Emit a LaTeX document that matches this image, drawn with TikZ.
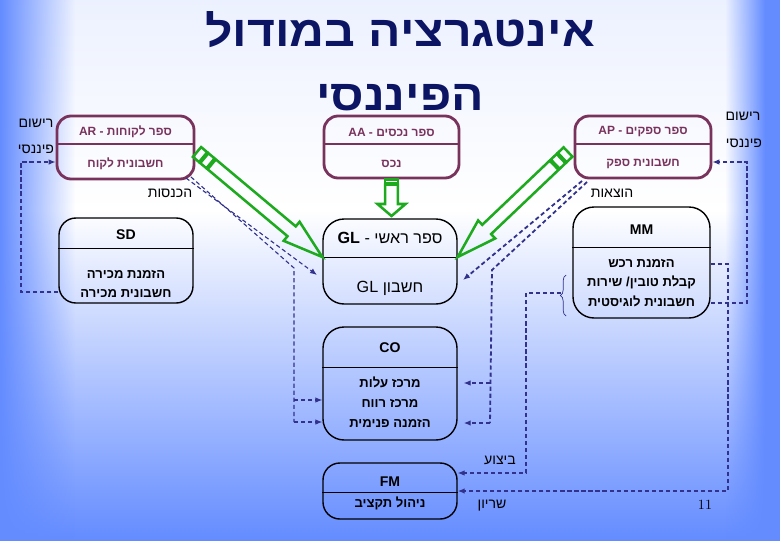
\documentclass[tikz,border=0pt]{standalone}
\usepackage{fontspec}
\newfontfamily\hebfont[Script=Hebrew]{Liberation Sans}
\TeXXeTstate=1
\usepackage{tikz}
\usetikzlibrary{arrows.meta,positioning,fit,calc,fadings,decorations.pathreplacing}

\definecolor{bgblue}{RGB}{100,140,255}
\definecolor{titleblue}{RGB}{12,20,100}
\definecolor{bookred}{RGB}{120,50,92}
\definecolor{flowblue}{RGB}{50,50,140}
\definecolor{arrowgreen}{RGB}{30,170,30}

\tikzfading[name=fade right, left color=transparent!0, right color=transparent!100]
\tikzfading[name=fade left, left color=transparent!100, right color=transparent!0]

\newcommand{\hebtxt}[1]{{\hebfont\beginR #1\endR}}
\newcommand{\lat}[1]{\beginL #1\endL}

% hollow green arrow: tail, tip, shaft start, head length, head half width
\newcommand{\hollowarrow}[5]{%
  \draw[hollow] ($(#1)!#3!(#2)!1.6mm!90:(#2)$)
    -- ($(#2)!#4!(#1)!1.6mm!-90:(#1)$)
    -- ($(#2)!#4!(#1)!#5!-90:(#1)$)
    -- (#2)
    -- ($(#2)!#4!(#1)!#5!90:(#1)$)
    -- ($(#2)!#4!(#1)!1.6mm!90:(#1)$)
    -- ($(#1)!#3!(#2)!1.6mm!-90:(#2)$) -- cycle;}
% small block at the tail of a green arrow: tail, tip, from, to
\newcommand{\tailblock}[4]{%
  \draw[hollow] ($(#1)!#3!(#2)!1.6mm!90:(#2)$) -- ($(#1)!#4!(#2)!1.6mm!90:(#2)$)
    -- ($(#1)!#4!(#2)!1.6mm!-90:(#2)$) -- ($(#1)!#3!(#2)!1.6mm!-90:(#2)$) -- cycle;}

\begin{document}
\begin{tikzpicture}[x=0.025cm, y=-0.025cm, >={Latex[length=5pt,width=4pt]},
  book/.style={draw=bookred, line width=2pt, rounded corners=10pt, inner sep=0pt},
  module/.style={draw=black, line width=1pt, rounded corners=12pt, inner sep=0pt},
  booktxt/.style={text=bookred, font=\hebfont\bfseries\fontsize{8.5}{10}\selectfont},
  modhead/.style={font=\hebfont\bfseries\fontsize{10}{12}\selectfont},
  modtxt/.style={font=\hebfont\bfseries\fontsize{9.3}{14}\selectfont, align=center},
  gltxt/.style={font=\hebfont\fontsize{11.5}{13}\selectfont},
  side/.style={font=\hebfont\fontsize{10}{12}\selectfont},
  titletxt/.style={font=\hebfont\bfseries\fontsize{30}{36}\selectfont, text=titleblue, anchor=base},
  flow/.style={draw=flowblue, line width=0.8pt, dash pattern=on 3pt off 2pt},
  heavy/.style={line width=1.3pt},
  hollow/.style={draw=arrowgreen, line width=1.8pt, line join=miter}]

  % slide background
  \useasboundingbox (0,0) rectangle (780,540);
  \shade[top color=bgblue!12!white, bottom color=white] (0,0) rectangle (780,210);
  \shade[top color=white, bottom color=bgblue] (0,210) rectangle (780,540);
  \fill[bgblue, path fading=fade right] (0,0) rectangle (75,540);
  \fill[bgblue, path fading=fade left] (725,0) rectangle (765,540);
  \fill[bgblue] (765,0) rectangle (780,540);

  \node[titletxt] (title top) at (400,46) {\scalebox{1.14}[1.02]{\hebtxt{אינטגרציה במודול}}};
  \node[titletxt] (title bottom) at (400,110) {\scalebox{1.14}[1.02]{\hebtxt{הפיננסי}}};

  % sub-ledgers
  \node[book, fit={(57,116) (194,179)}] (ar) {};
  \node[book, fit={(324,116) (459,178)}] (aa) {};
  \node[book, fit={(575,116) (711,178)}] (ap) {};
  \foreach \b in {ar,aa,ap}
    \draw[bookred, line width=2pt] (\b.west |- 0,144) -- (\b.east |- 0,144);
  \node[booktxt] (ar head) at (ar.center |- 0,132) {\hebtxt{ספר לקוחות - \lat{AR}}};
  \node[booktxt] (ar body) at (ar.center |- 0,164) {\hebtxt{חשבונית לקוח}};
  \node[booktxt] (aa head) at (aa.center |- 0,132) {\hebtxt{ספר נכסים - \lat{AA}}};
  \node[booktxt] (aa body) at (aa.center |- 0,164) {\hebtxt{נכס}};
  \node[booktxt] (ap head) at (ap.center |- 0,132) {\hebtxt{ספר ספקים - \lat{AP}}};
  \node[booktxt] (ap body) at (ap.center |- 0,164) {\hebtxt{חשבונית ספק}};

  % modules
  \node[module, fit={(59,218) (193,303)}] (sd) {};
  \node[module, rounded corners=15pt, fit={(573,207) (710,318)}] (mm) {};
  \node[module, rounded corners=15pt, fit={(323,219) (457,304)}] (gl) {};
  \node[module, rounded corners=15pt, fit={(323,327) (457,440)}] (co) {};
  \node[module, fit={(323,463) (457,519)}] (fm) {};
  \draw (sd.west |- 0,248) -- (sd.east |- 0,248);
  \draw (mm.west |- 0,247) -- (mm.east |- 0,247);
  \draw (gl.west |- 0,257) -- (gl.east |- 0,257);
  \draw (co.west |- 0,367) -- (co.east |- 0,367);
  \draw (fm.west |- 0,492) -- (fm.east |- 0,492);

  \node[modhead] (sd head) at (sd.center |- 0,235) {SD};
  \node[modtxt] (sd body) at (sd.center |- 0,284) {\hebtxt{הזמנת מכירה}\\ \hebtxt{חשבונית מכירה}};
  \node[modhead] (mm head) at (mm.center |- 0,230) {MM};
  \node[modtxt] (mm body) at (mm.center |- 0,283)
    {\hebtxt{הזמנת רכש}\\ \hebtxt{קבלת טובין/ שירות}\\ \hebtxt{חשבונית לוגיסטית}};
  \node[gltxt] (gl head) at (gl.center |- 0,238) {\hebtxt{ספר ראשי - \lat{\textbf{GL}}}};
  \node[gltxt] (gl body) at (gl.center |- 0,288) {\hebtxt{חשבון \lat{GL}}};
  \node[modhead] (co head) at (co.center |- 0,348) {CO};
  \node[modtxt] (co body) at (co.center |- 0,402)
    {\hebtxt{מרכז עלות}\\ \hebtxt{מרכז רווח}\\ \hebtxt{הזמנה פנימית}};
  \node[modhead] (fm head) at (fm.center |- 0,482) {FM};
  \node[modtxt] (fm body) at (fm.center |- 0,503) {\hebtxt{ניהול תקציב}};

  % side labels
  \node[side] (reg left) at (36,123) {\hebtxt{רישום}};
  \node[side] (fin left) at (36,149) {\hebtxt{פיננסי}};
  \node[side] (reg right) at (743,116) {\hebtxt{רישום}};
  \node[side] (fin right) at (744,143) {\hebtxt{פיננסי}};
  \node[side] (income) at (170,193) {\hebtxt{הכנסות}};
  \node[side] (expense) at (612,193) {\hebtxt{הוצאות}};
  \node[side] (exec) at (500,460) {\hebtxt{ביצוע}};
  \node[side] (commit) at (492,506) {\hebtxt{שריון}};
  \node[font=\fontsize{10}{12}\selectfont] (page) at (705,505) {11};

  % postings into the general ledger
  \coordinate (ar out) at (197,152);
  \coordinate (ap out) at (568,152);
  \coordinate (aa tip) at (aa.south |- 0,216);
  \coordinate (gl tip w) at (gl.west |- 0,257);
  \coordinate (gl tip e) at (gl.east |- 0,257);
  \tailblock{ar out}{gl tip w}{0mm}{2mm}
  \tailblock{ar out}{gl tip w}{2.4mm}{4.4mm}
  \hollowarrow{ar out}{gl tip w}{4.8mm}{10mm}{3.1mm}
  \tailblock{ap out}{gl tip e}{0mm}{2mm}
  \tailblock{ap out}{gl tip e}{2.4mm}{4.4mm}
  \hollowarrow{ap out}{gl tip e}{4.8mm}{10mm}{3.1mm}
  \tailblock{aa.south}{aa tip}{0mm}{1mm}
  \hollowarrow{aa.south}{aa tip}{1.3mm}{3mm}{3.5mm}

  % dashed document flow
  \coordinate (ar foot a) at (186,178);
  \coordinate (ar foot b) at (191,177);
  \coordinate (ap foot a) at (582,181);
  \coordinate (ap foot b) at (587,182);
  \coordinate (gl in w) at (317,275);
  \coordinate (gl in e) at (463,280);
  \draw[flow, ->] (sd.west |- 0,292) -- (21,292) |- (ar.west |- 0,162);
  \draw[flow, ->] (ar foot a) -- (gl in w);
  \draw[flow] (ar foot b) -- (294,268) -- (294,422);
  \draw[flow, ->] (294,400) -- (co.west |- 0,400);
  \draw[flow, ->] (294,422) -- (co.west |- 0,422);
  \draw[flow, heavy, ->] (ap foot a) -- (gl in e);
  \draw[flow, heavy] (ap foot b) -- (492,270) -- (490,423);
  \draw[flow, ->] (490,383) -- ($(co.east |- 0,383)+(6,0)$);
  \draw[flow, heavy, ->] (490,423) -- ($(co.east |- 0,423)+(6,0)$);
  \draw[flow, ->] (mm.east |- 0,303) -- (747,303) |- (ap.east |- 0,162);
  \draw[flow, heavy, ->] (mm.east |- 0,264) -- (728,264) |- (fm.east |- 0,491);
  \draw[flowblue, line width=0.5pt, decorate, decoration={brace, amplitude=4pt}]
    (566,316) -- (566,275);
  \coordinate (mm brace) at (561,293);
  \draw[flow, ->] (mm brace) -- (526,293) |- (fm.east |- 0,473);
\end{tikzpicture}
\end{document}
